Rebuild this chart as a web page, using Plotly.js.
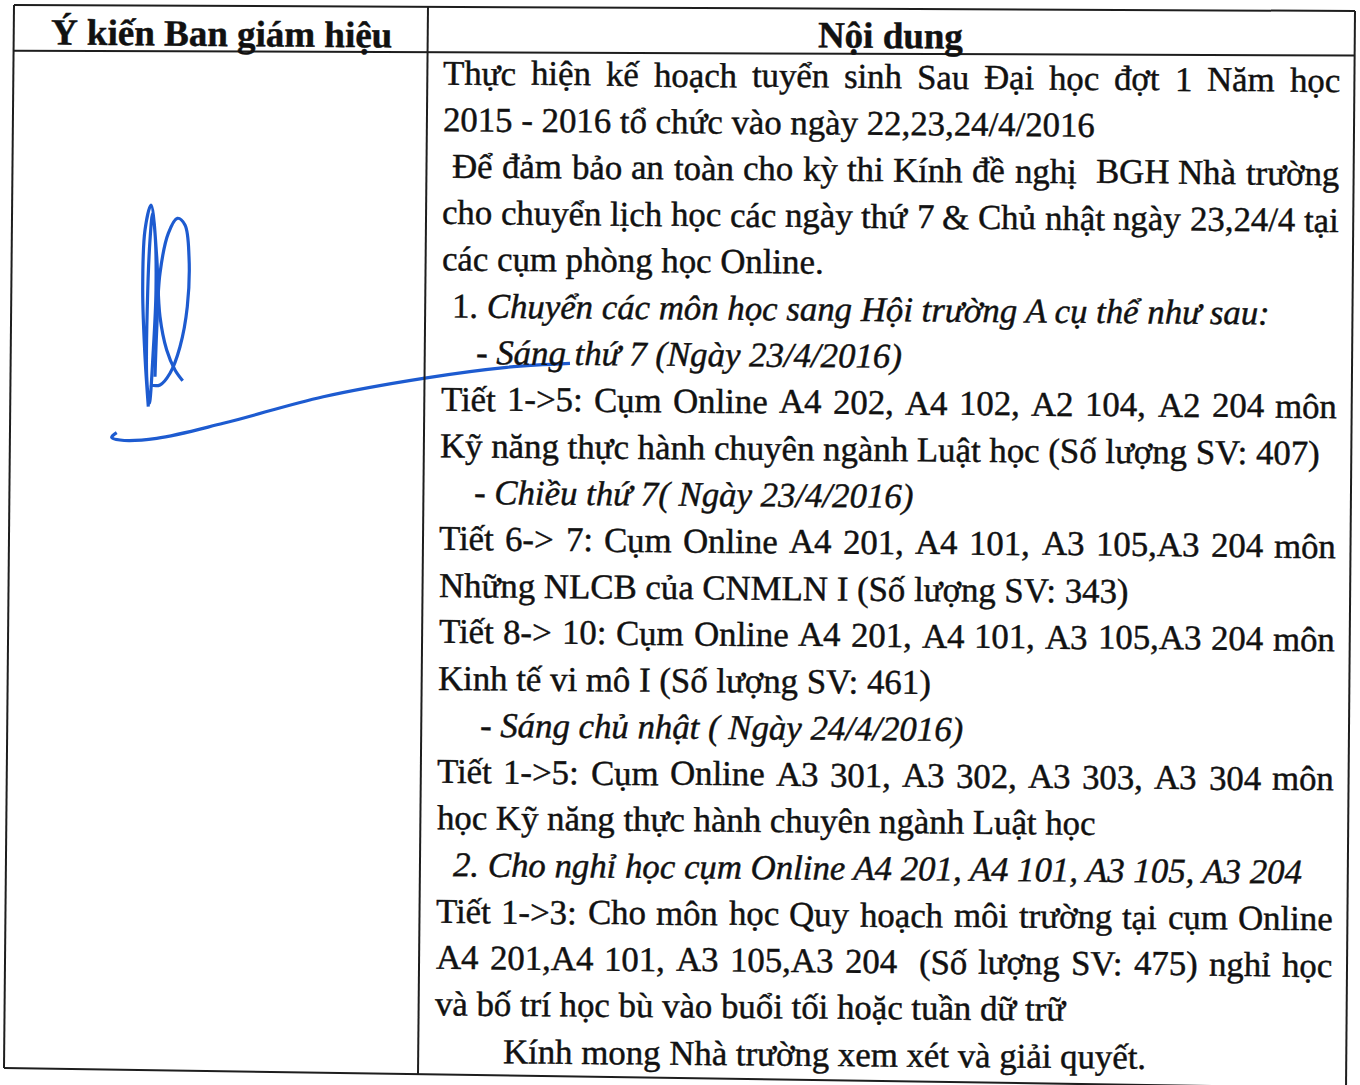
<!DOCTYPE html>
<html>
<head>
<meta charset="utf-8">
<script src="https://cdn.plot.ly/plotly-3.0.1.min.js"></script>
<style>
html,body{margin:0;padding:0;background:#fff;overflow:hidden}
#chart .annotation-text{stroke:#111;stroke-width:0.45px;paint-order:stroke}
</style>
</head>
<body>
<div id="chart" style="width:1360px;height:1085px"></div>
<script>
// ---------------- DATA ----------------
const headerLeft = "Ý kiến Ban giám hiệu";
const headerRight = "Nội dung";

const contentLines = [
  "Thực hiện kế hoạch tuyển sinh Sau Đại học đợt 1 Năm học",
  "2015 - 2016 tổ chức vào ngày 22,23,24/4/2016",
  "Để đảm bảo an toàn cho kỳ thi Kính đề nghị  BGH Nhà trường",
  "cho chuyển lịch học các ngày thứ 7 & Chủ nhật ngày 23,24/4 tại",
  "các cụm phòng học Online.",
  "1. Chuyển các môn học sang Hội trường A cụ thể như sau:",
  "- Sáng thứ 7 (Ngày 23/4/2016)",
  "Tiết 1->5: Cụm Online A4 202, A4 102, A2 104, A2 204 môn",
  "Kỹ năng thực hành chuyên ngành Luật học (Số lượng SV: 407)",
  "- Chiều thứ 7( Ngày 23/4/2016)",
  "Tiết 6-> 7: Cụm Online A4 201, A4 101, A3 105,A3 204 môn",
  "Những NLCB của CNMLN I (Số lượng SV: 343)",
  "Tiết 8-> 10: Cụm Online A4 201, A4 101, A3 105,A3 204 môn",
  "Kinh tế vi mô I (Số lượng SV: 461)",
  "- Sáng chủ nhật ( Ngày 24/4/2016)",
  "Tiết 1->5: Cụm Online A3 301, A3 302, A3 303, A3 304 môn",
  "học Kỹ năng thực hành chuyên ngành Luật học",
  "2. Cho nghỉ học cụm Online A4 201, A4 101, A3 105, A3 204",
  "Tiết 1->3: Cho môn học Quy hoạch môi trường tại cụm Online",
  "A4 201,A4 101, A3 105,A3 204  (Số lượng SV: 475) nghỉ học",
  "và bố trí học bù vào buổi tối hoặc tuần dữ trữ",
  "Kính mong Nhà trường xem xét và giải quyết."
];

// handwritten signature strokes (page pixels)
const sigLoopX = [148.3,145,142.7,145,151,155,156,153.3,149.3,146.7,147.3,150,152.7,156.7,160,166.7,175,182.7];
const sigLoopY = [406.7,356.7,290,230,205,233,290,350,403.3,376.7,306.7,240,213.3,256.7,316.7,350,370,380.7];
const sigOvalX = [155,156.7,160,168.3,177.3,185,189,187.3,180,170,160,150];
const sigOvalY = [376.7,330,273.3,233.3,218.3,225,256.7,306.7,346.7,373.3,385,385];
const sigTailX = [116.7,111.7,120,156.7,223.3,323.3,423.3,506.7,570];
const sigTailY = [432.7,437.3,440,438.3,423.3,396.7,378.3,367.3,363.3];

// ---------------- LAYOUT / STYLE ----------------
const W = 1360, H = 1085;
const FONT = '"Liberation Serif", "Times New Roman", serif';
const SIZE = 34.8, HSIZE = 37;
const INK = '#111111';
const THETA = 0.0086;                 // scan rotation (rad)
const X0 = 444, X1 = 1340.6;          // text column (unrotated)
const BASE0 = 80.8, STEP = 46.57;     // first baseline, line pitch (unrotated)
const justify   = [1,0,1,1,0,0,0,1,0,0,1,0,1,0,0,1,0,0,1,1,0,0];
const indent    = [0,0,9.5,0,0,10.5,35,0,0,34,0,0,0,0,42,0,0,15.5,0,0,0,68];
const italicFrom= [-1,-1,-1,-1,-1,3,0,-1,-1,0,-1,-1,-1,-1,0,-1,-1,0,-1,-1,-1,-1];

const ctx = document.createElement('canvas').getContext('2d');
function measure(t, italic, bold, size) {
  ctx.font = (italic ? 'italic ' : '') + (bold ? 'bold ' : '') + size + 'px "Liberation Serif"';
  return ctx.measureText(t).width;
}
function rot(x, y) { return [x - THETA * y, y + THETA * x]; }
const ANG = THETA * 180 / Math.PI;

const annotations = [];
function place(xLeft, baseline, width, html, size, bold) {
  const cx = xLeft + width / 2;
  const cy = baseline - 0.3375 * size;
  const p = rot(cx, cy);
  annotations.push({
    x: p[0], y: p[1], xref: 'x', yref: 'y', xanchor: 'center', yanchor: 'middle',
    text: html, showarrow: false, borderpad: 0, textangle: ANG,
    font: {family: FONT, size: size, color: INK, weight: bold ? 'bold' : 'normal'}
  });
}

// header
(function () {
  const wl = measure(headerLeft, false, true, HSIZE);
  place(222 - wl / 2, 44, wl, '<b>' + headerLeft + '</b>', HSIZE, true);
  const wr = measure(headerRight, false, true, HSIZE);
  place(891 - wr / 2, 40, wr, '<b>' + headerRight + '</b>', HSIZE, true);
})();

contentLines.forEach((line, i) => {
  const base = BASE0 + i * STEP;
  const start = X0 + indent[i];
  if (justify[i]) {
    const toks = line.split(' ');
    let wsum = 0;
    toks.forEach(t => { if (t) wsum += measure(t, false, false, SIZE); });
    const gap = (X1 - start - wsum) / (toks.length - 1);
    let cur = start;
    toks.forEach((t, k) => {
      if (t) {
        const w = measure(t, false, false, SIZE);
        place(cur, base, w, t, SIZE, false);
        cur += w;
      }
      if (k < toks.length - 1) cur += gap;
    });
  } else {
    const f = italicFrom[i];
    let html, w;
    if (f < 0) {
      html = line; w = measure(line, false, false, SIZE);
    } else {
      const a = line.slice(0, f), b = line.slice(f);
      html = (a ? a : '') + '<i>' + b + '</i>';
      w = (a ? measure(a, false, false, SIZE) : 0) + measure(b, true, false, SIZE);
    }
    place(start, base, w, html, SIZE, false);
  }
});

// table rules
const RULE = {color: '#1e1e1e', width: 2};
const seg = (x0, y0, x1, y1) => ({type: 'line', xref: 'x', yref: 'y', x0, y0, x1, y1, line: RULE});
const shapes = [
  seg(14, 5, 1355, 11),
  seg(14, 50.7, 1355, 55.5),
  seg(14, 5, 4, 1068),
  seg(428, 6, 418, 1075),
  seg(1355, 11, 1346, 1088),
  seg(4, 1068, 1346, 1088)
];

const INKBLUE = '#1d5bd0';
const sigTrace = (xs, ys) => ({
  x: xs, y: ys, type: 'scatter', mode: 'lines', hoverinfo: 'skip',
  line: {color: INKBLUE, width: 3.2, shape: 'spline', smoothing: 1}
});
const data = [sigTrace(sigLoopX, sigLoopY), sigTrace(sigOvalX, sigOvalY), sigTrace(sigTailX, sigTailY)];

const layout = {
  width: W, height: H, margin: {l: 0, r: 0, t: 0, b: 0, pad: 0},
  paper_bgcolor: '#ffffff', plot_bgcolor: '#ffffff', showlegend: false,
  xaxis: {range: [0, W], visible: false, fixedrange: true},
  yaxis: {range: [H, 0], visible: false, fixedrange: true},
  shapes: shapes, annotations: annotations
};
Plotly.newPlot('chart', data, layout, {staticPlot: true, displayModeBar: false});
</script>
</body>
</html>
